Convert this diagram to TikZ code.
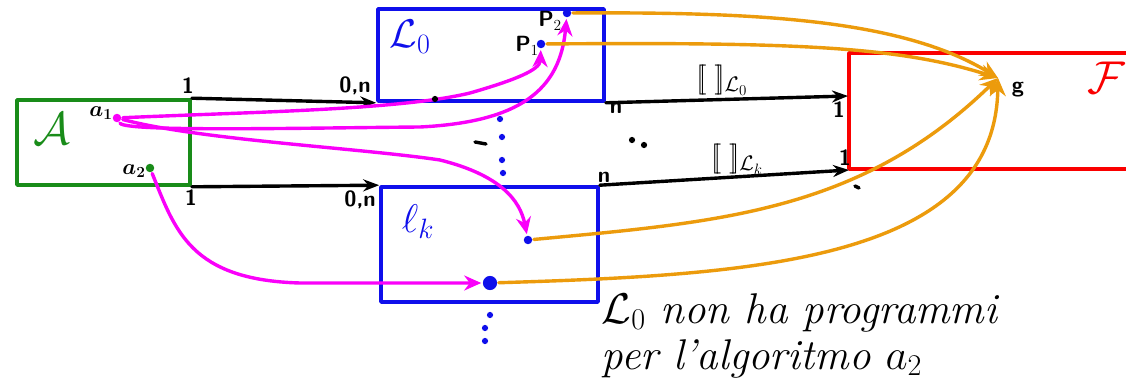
\RequirePackage{fix-cm}
\documentclass[tikz,border=0pt]{standalone}
\usepackage{amsmath}
\usetikzlibrary{arrows.meta}
\definecolor{myg}{RGB}{25,140,25}
\definecolor{myb}{RGB}{15,15,235}
\definecolor{myr}{RGB}{250,0,0}
\definecolor{mym}{RGB}{250,0,250}
\definecolor{myo}{RGB}{236,155,12}
\begin{document}
\begin{tikzpicture}[x=1pt,y=-1pt,line width=3.4pt,line cap=round,line join=round,
  box/.style={draw,inner sep=0pt,line width=3.6pt},
  dotn/.style={circle,fill,inner sep=3pt},
  lab/.style={font=\fontsize{22}{22}\selectfont\bfseries\sffamily,inner sep=0pt},
  sem/.style={font=\fontsize{30}{30}\selectfont\bfseries,inner sep=0pt},
  big/.style={font=\fontsize{46}{46}\selectfont,inner sep=0pt},
  blk/.style={draw=black,-{Stealth[length=16pt,width=12pt]}},
  mag/.style={draw=mym,-{Stealth[length=17pt,width=15pt]}},
  org/.style={draw=myo,-{Stealth[length=18pt,width=16pt]}},
  note/.style={anchor=base west,inner sep=0pt,font=\fontsize{43}{43}\selectfont\itshape},
  tiny/.style={circle,fill,inner sep=2.2pt}]
\useasboundingbox (0,0) rectangle (1126,382);
\clip (0,0) rectangle (1126,382);
\fill[white] (0,0) rectangle (1126,382);
% boxes
\node[box,draw=myg,minimum width=173pt,minimum height=85pt] (A) at (103.5,142.5) {};
\node[box,draw=myb,minimum width=226pt,minimum height=92pt] (L0) at (491,55) {};
\node[box,draw=myb,minimum width=217pt,minimum height=115pt] (Lk) at (489.5,244.5) {};
\node[box,draw=myr,minimum width=310pt,minimum height=116pt] (F) at (1004,111) {};
% box labels
\node[big,text=myg] (Alab) at (52,129) {$\mathcal{A}$};
\node[big,text=myb,font=\fontsize{40}{40}\selectfont] (L0lab) at (410,37) {$\mathcal{L}_0$};
\node[big,text=myb,font=\fontsize{40}{40}\selectfont] (Lklab) at (418,222) {$\ell_k$};
\node[big,text=myr] (Flab) at (1106,78) {$\mathcal{F}$};
% points
\node[dotn,fill=mym] (a1) at (117,118) {};
\node[dotn,fill=myg] (a2) at (150,168) {};
\node[dotn,fill=myb] (P1) at (541,44) {};
\node[dotn,fill=myb] (P2) at (567,13) {};
\node[dotn,fill=myb] (c) at (528,240) {};
\node[dotn,fill=myb,inner sep=5pt] (b) at (490,283) {};
\coordinate (g) at (998,78);
\coordinate (f1) at (848,96);
\coordinate (f2) at (849,170);
% point labels
\node[lab] (a1l) at (101,113) {$\boldsymbol{a_1}$};
\node[lab] (a2l) at (134,171) {$\boldsymbol{a_2}$};
\node[lab] (P2l) at (550,21) {P$_2$};
\node[lab] (P1l) at (527,46) {P$_1$};
\node[lab] (gl) at (1018,90) {g};
% black arrows
\draw[blk] (A.north east) -- (L0.south west);
\draw[blk] (A.south east) -- (Lk.north west);
\draw[blk] (L0.south east) -- (f1);
\draw[blk] (Lk.north east) -- (f2);
\node[lab] (o1) at (188,86) {1};
\node[lab] (o2) at (191,198) {1};
\node[lab] (z1) at (355,86) {0,n};
\node[lab] (z2) at (360,200) {0,n};
\node[lab] (n1) at (616,108) {n};
\node[lab] (n2) at (604,177) {n};
\node[lab] (i1) at (839,110) {1};
\node[lab] (i2) at (845,158) {1};
\node[sem] (s1) at (722,80) {$[\![\;]\!]_{\mathcal{L}_0}$};
\node[sem] (s2) at (737,159) {$[\![\;]\!]_{\mathcal{L}_k}$};
% magenta
\draw[mag] (a1) .. controls (250,112) and (400,110) .. (470,93) .. controls (515,80) and (540,70) .. (P1);
\draw[mag] (a1) .. controls (125,132) and (300,128) .. (420,127) .. controls (520,122) and (560,90) .. (P2);
\draw[mag] (a1) .. controls (200,140) and (360,148) .. (440,160) .. controls (500,175) and (520,200) .. (c);
\draw[mag] (a2) .. controls (175,230) and (190,280) .. (300,283) -- (b);
% orange
\draw[org] (P2) .. controls (750,12) and (900,18) .. (g);
\draw[org] (P1) .. controls (800,42) and (900,47) .. (g);
\draw[org] (c) .. controls (720,222) and (860,212) .. (g);
\draw[org] (b) .. controls (750,275) and (995,262) .. (g);
% dots
\node[tiny,fill=myb] (d1) at (500,119) {};
\node[tiny,fill=myb] (d2) at (502,137) {};
\node[tiny,fill=myb] (d3) at (502,160) {};
\node[tiny,fill=myb] (d4) at (503,173) {};
\node[tiny,fill=myb] (d5) at (490,315) {};
\node[tiny,fill=myb] (d6) at (485,328) {};
\node[tiny,fill=myb] (d7) at (485,341) {};
\node[tiny] (e1) at (632,140) {};
\node[tiny] (e2) at (644,145) {};
\node[tiny] (e3) at (435,99) {};
\draw (475,142) -- (486,144);
\draw (855,186) -- (859,188);
% note
\node[note] (note1) at (600,323) {$\mathcal{L}_0$ non ha programmi};
\node[note] (note2) at (600,369) {per l'algoritmo $a_2$};
\end{tikzpicture}
\end{document}
